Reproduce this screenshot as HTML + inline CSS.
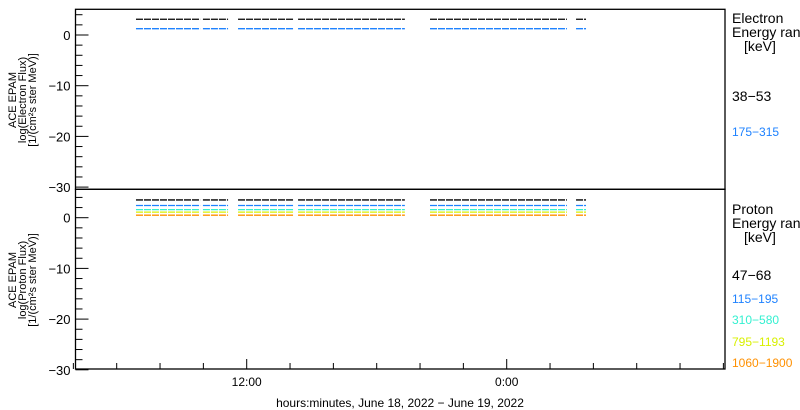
<!DOCTYPE html>
<html><head><meta charset="utf-8"><style>
body{margin:0;background:#fff}
svg{display:block;font-family:"Liberation Sans","DejaVu Sans",sans-serif}
</style></head><body>
<svg id="c" width="800" height="410" viewBox="0 0 800 410">
<g id="axes"></g><g id="marks"></g><g id="labels"></g>
</svg>
<script>
const segStarts=[6.89,9.98,11.6,14.37,20.46,27.2];
const segEnds=[9.85,11.14,14.14,19.3,26.78,27.66];
const elecLabels=["38-53","175-315"];
const elecValues=[3.1,1.25];
const elecColors=["#000000","#1e82ff"];
const protLabels=["47-68","115-195","310-580","795-1193","1060-1900"];
const protValues=[3.5,2.4,1.6,1.1,0.5];
const protColors=["#000000","#1e82ff","#33f0d0","#d8f000","#ff9000"];
const yTicks=[0,-10,-20,-30];
const xMajor=[12,24];
const xMajorLabels=["12:00","0:00"];
const xMinorStart=4, xMinorEnd=34, xMinorStep=2;

const NS="http://www.w3.org/2000/svg";
const X0=75.5,X1=725;
function xs(t){return 246.7+(t-12)*21.667;}
function ys(v,off){return 35+off-v*5.07;}
function el(tag,attrs,parent,text){const e=document.createElementNS(NS,tag);for(const k in attrs)e.setAttribute(k,attrs[k]);if(text!==undefined)e.textContent=text;parent.appendChild(e);return e;}
const axes=document.getElementById('axes'),marks=document.getElementById('marks'),labels=document.getElementById('labels');

const panels=[{off:0,top:9.3,bot:189.3,vals:elecValues,cols:elecColors,name:'electron'},{off:182.7,top:189.3,bot:369,vals:protValues,cols:protColors,name:'proton'}];
panels.forEach(p=>{
  const r=el('rect',{x:X0,y:p.top,width:X1-X0,height:p.bot-p.top,fill:'none',stroke:'#000','stroke-width':1.3},axes);
  
  
  for(let v=4;v>=-30;v-=2){
    const major=(v%10===0);
    const t=el('line',{x1:X0,x2:X0+(major?13:7),y1:ys(v,p.off),y2:ys(v,p.off),stroke:'#000','stroke-width':1},axes);
    
    
  }
  yTicks.forEach(v=>{
    const t=el('text',{x:X0-5,y:ys(v,p.off)+5,'text-anchor':'end','font-size':13},labels,String(v).replace('-','\u2212'));
    
    
  });
  p.vals.forEach((v,i)=>{
    segStarts.forEach((s,j)=>{
      const ln=el('line',{x1:xs(s),x2:xs(segEnds[j]),y1:ys(v,p.off),y2:ys(v,p.off),stroke:p.cols[i],'stroke-width':1.3,'stroke-dasharray':'7 1'},marks);
      
      
    });
  });
});
for(let t=xMinorStart;t<=xMinorEnd;t+=xMinorStep){
  const maj=xMajor.includes(t);
  const ln=el('line',{x1:xs(t),x2:xs(t),y1:369,y2:369-(maj?10:6),stroke:'#000'},axes);
  
  
}
xMajor.forEach((t,i)=>{
  const tx=el('text',{x:xs(t),y:386,'text-anchor':'middle','font-size':12},labels,xMajorLabels[i]);
  
  
});
const xt=el('text',{x:400,y:407,'text-anchor':'middle','font-size':12},labels,'hours:minutes, June 18, 2022 \u2212 June 19, 2022');



[[100,'Electron'],[280,'Proton']].forEach(([cy,nm])=>{
  const g=el('g',{transform:'translate(24,'+cy+') rotate(-90)'},labels);
  
  
  el('text',{x:0,y:-8,'text-anchor':'middle','font-size':11},g,'ACE EPAM');
  el('text',{x:0,y:2,'text-anchor':'middle','font-size':11},g,'log('+nm+' Flux)');
  el('text',{x:0,y:12,'text-anchor':'middle','font-size':11},g,'[1/(cm\u00b2s ster MeV)]');
});

function legend(title,top,labs,ys2,cols,name){
  [[title,top+13],['Energy ran',top+27]].forEach(([s,y])=>{
    const t=el('text',{x:732,y:y,'font-size':14},labels,s);
    
    
  });
  const k=el('text',{x:744,y:top+41,'font-size':14},labels,'[keV]');
  
  
  labs.forEach((l,i)=>{
    const t=el('text',{x:732,y:ys2[i],'font-size':i===0?14:12,fill:cols[i]},labels,l.replace('-','\u2212'));
    
    
  });
}
legend('Electron',10,elecLabels,[101,136],elecColors,'electron');
legend('Proton',201,protLabels,[280,303,324,346,367],protColors,'proton');
</script>
</body></html>
